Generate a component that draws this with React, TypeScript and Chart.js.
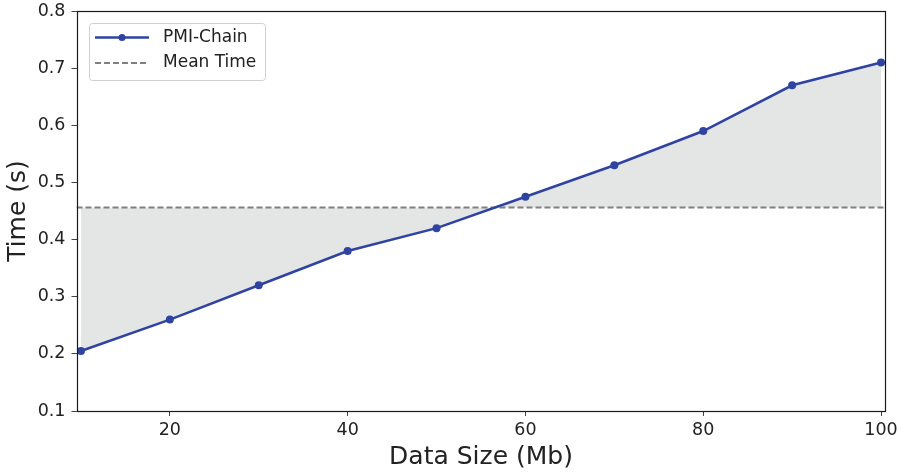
import React, { useEffect, useRef } from "react";
import { Chart, registerables } from "chart.js";

Chart.register(...registerables);

const dataSizes = [10, 20, 30, 40, 50, 60, 70, 80, 90, 100];
const times = [0.205, 0.26, 0.32, 0.38, 0.42, 0.475, 0.53, 0.59, 0.67, 0.71];
const xTicks = [20, 40, 60, 80, 100];
const yTicks = [0.1, 0.2, 0.3, 0.4, 0.5, 0.6, 0.7, 0.8];
const seriesLabel = "PMI-Chain";
const meanLabel = "Mean Time";
const xTitle = "Data Size (Mb)";
const yTitle = "Time (s)";

const meanTime = times.reduce((a, b) => a + b, 0) / times.length;

const X_MIN = 9.5;
const X_MAX = 100.5;
const LINE_COLOR = "#2f44a2";
const FONT = "'DejaVu Sans', sans-serif";

const framePlugin = {
  id: "frame",
  afterDraw(chart: any) {
    const { ctx, chartArea } = chart;
    ctx.save();
    ctx.strokeStyle = "#1a1a1a";
    ctx.lineWidth = 1.2;
    const l = Math.round(chartArea.left) + 0.5;
    const t = Math.round(chartArea.top) + 0.5;
    const r = Math.round(chartArea.right) - 0.5;
    const b = Math.round(chartArea.bottom) + 0.5;
    ctx.strokeRect(l, t, r - l, b - t);
    // legend
    const bx = 89, by = 23, bw = 176, bh = 57;
    ctx.beginPath();
    (ctx as any).roundRect(bx + 0.5, by + 0.5, bw, bh, 3);
    ctx.fillStyle = "rgba(255,255,255,0.85)";
    ctx.fill();
    ctx.lineWidth = 1;
    ctx.strokeStyle = "#d0d0d0";
    ctx.stroke();
    // PMI entry
    const y1 = 37.5;
    ctx.strokeStyle = LINE_COLOR;
    ctx.lineWidth = 2.5;
    ctx.beginPath();
    ctx.moveTo(95, y1);
    ctx.lineTo(149, y1);
    ctx.stroke();
    ctx.fillStyle = LINE_COLOR;
    ctx.beginPath();
    ctx.arc(122, y1, 3.5, 0, Math.PI * 2);
    ctx.fill();
    // Mean entry
    const y2 = 63;
    ctx.strokeStyle = "#808080";
    ctx.lineWidth = 2;
    ctx.setLineDash([6, 3]);
    ctx.beginPath();
    ctx.moveTo(95, y2);
    ctx.lineTo(149, y2);
    ctx.stroke();
    ctx.setLineDash([]);
    ctx.fillStyle = "#222";
    ctx.font = `17px ${FONT}`;
    ctx.textBaseline = "middle";
    ctx.textAlign = "left";
    ctx.fillText(seriesLabel, 163, y1);
    ctx.fillText(meanLabel, 163, y2);
    ctx.restore();
  },
};

export default function App() {
  const ref = useRef<HTMLCanvasElement>(null);
  useEffect(() => {
    if (!ref.current) return;
    const chart = new Chart(ref.current, {
      type: "line",
      data: {
        datasets: [
          {
            label: seriesLabel,
            data: dataSizes.map((x, i) => ({ x, y: times[i] })),
            borderColor: LINE_COLOR,
            backgroundColor: "#e4e5e5",
            pointBackgroundColor: LINE_COLOR,
            pointBorderColor: LINE_COLOR,
            pointBorderWidth: 0,
            pointRadius: 4,
            borderWidth: 2.5,
            fill: { value: meanTime } as any,
            tension: 0,
          },
          {
            label: meanLabel,
            data: [
              { x: X_MIN, y: meanTime },
              { x: X_MAX, y: meanTime },
            ],
            borderColor: "#808080",
            borderDash: [6, 3],
            borderWidth: 2,
            pointRadius: 0,
            fill: false,
          },
        ],
      },
      options: {
        responsive: false,
        animation: false,
        layout: { padding: { left: 0, right: 16.5, top: 11, bottom: 0 } },
        plugins: {
          legend: { display: false },
          tooltip: { enabled: false },
          filler: { drawTime: "beforeDatasetsDraw" } as any,
        },
        scales: {
          x: {
            type: "linear",
            min: X_MIN,
            max: X_MAX,
            afterBuildTicks: (s: any) => {
              s.ticks = xTicks.map((v) => ({ value: v }));
            },
            afterFit: (s: any) => {
              s.height = 61;
              s.paddingLeft = 0;
              s.paddingRight = 0;
            },
            grid: { display: true, drawOnChartArea: false, drawTicks: true, tickLength: 5, tickColor: "#444" },
            border: { display: false },
            ticks: { color: "#222", font: { family: FONT, size: 17.5, lineHeight: 1 }, padding: 6, maxRotation: 0 },
            title: {
              display: true,
              text: xTitle,
              color: "#222",
              font: { family: FONT, size: 25, lineHeight: 1 },
              padding: { top: 0, bottom: 2 },
            },
          },
          y: {
            type: "linear",
            min: 0.1,
            max: 0.8,
            afterBuildTicks: (s: any) => {
              s.ticks = yTicks.map((v) => ({ value: v }));
            },
            afterFit: (s: any) => {
              s.width = 76.5;
              s.paddingTop = 0;
              s.paddingBottom = 0;
            },
            grid: { display: true, drawOnChartArea: false, drawTicks: true, tickLength: 5, tickColor: "#444" },
            border: { display: false },
            ticks: {
              color: "#222",
              font: { family: FONT, size: 17.5, lineHeight: 1 },
              padding: 6,
              callback: (v: any) => Number(v).toFixed(1),
            },
            title: {
              display: true,
              text: yTitle,
              color: "#222",
              font: { family: FONT, size: 25, lineHeight: 1 },
              padding: { top: 6, bottom: 0 },
            },
          },
        },
      },
      plugins: [framePlugin],
    });
    return () => chart.destroy();
  }, []);
  return (
    <div style={{ position: "fixed", left: 0, top: 0, width: 902, height: 472, background: "#fff" }}>
      <canvas ref={ref} width={902} height={472} style={{ width: 902, height: 472, display: "block" }} />
    </div>
  );
}
